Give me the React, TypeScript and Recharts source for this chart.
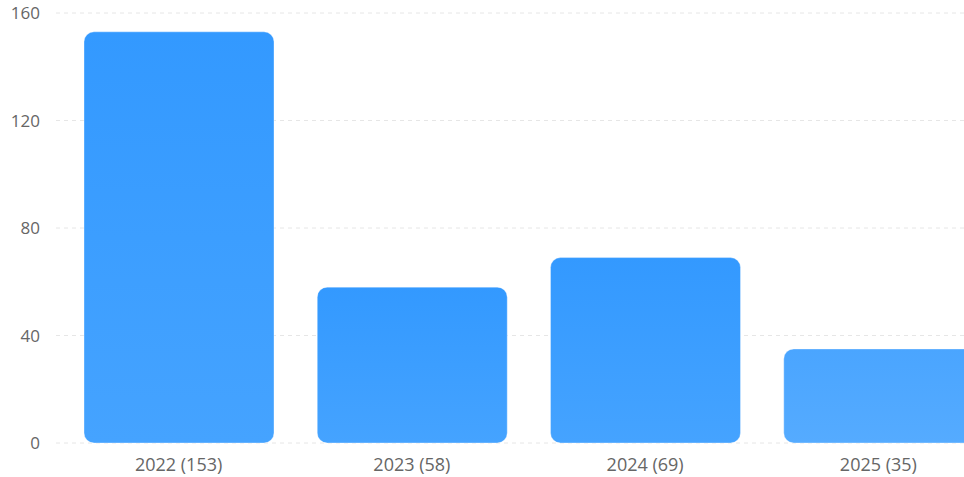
import React from "react";
import { BarChart, Bar, XAxis, YAxis, CartesianGrid, Cell } from "recharts";

const years = ["2022", "2023", "2024", "2025"];
const counts = [153, 58, 69, 35];
const yTicks = [0, 40, 80, 120, 160];

const data = years.map((year, i) => ({
  name: `${year} (${counts[i]})`,
  value: counts[i],
}));

const FONT = "'Open Sans', 'Noto Sans', sans-serif";

export default function App() {
  return (
    <div style={{ position: "absolute", left: 0, top: 0, width: 1000, height: 477 }}>
      <BarChart
        width={1000}
        height={477}
        data={data}
        margin={{ top: 13, right: 5, bottom: 4, left: 0 }}
        barSize={190}
      >
        <defs>
          <linearGradient id="barFill" x1="0" y1="0" x2="0" y2="1">
            <stop offset="0%" stopColor="#3399ff" />
            <stop offset="100%" stopColor="#45a3ff" />
          </linearGradient>
          <linearGradient id="barFillLight" x1="0" y1="0" x2="0" y2="1">
            <stop offset="0%" stopColor="#4aa5ff" />
            <stop offset="100%" stopColor="#55abff" />
          </linearGradient>
        </defs>
        <CartesianGrid vertical={false} stroke="#e6e6e6" strokeDasharray="4 4" />
        <XAxis
          dataKey="name"
          axisLine={false}
          tickLine={false}
          padding={{ left: 6, right: 0 }}
          height={30}
          tickMargin={9}
          tick={{ fill: "#666", fontSize: 18, fontFamily: FONT }}
        />
        <YAxis
          width={56}
          domain={[0, 160]}
          ticks={yTicks}
          axisLine={false}
          tickLine={false}
          tickMargin={10}
          tick={{ fill: "#666", fontSize: 17, fontFamily: FONT }}
        />
        <Bar
          dataKey="value"
          radius={[10, 10, 10, 10]}
          stroke="rgba(255,255,255,0.35)"
          isAnimationActive={false}
        >
          {data.map((d, i) => (
            <Cell key={d.name} fill={i === 3 ? "url(#barFillLight)" : "url(#barFill)"} />
          ))}
        </Bar>
      </BarChart>
    </div>
  );
}
